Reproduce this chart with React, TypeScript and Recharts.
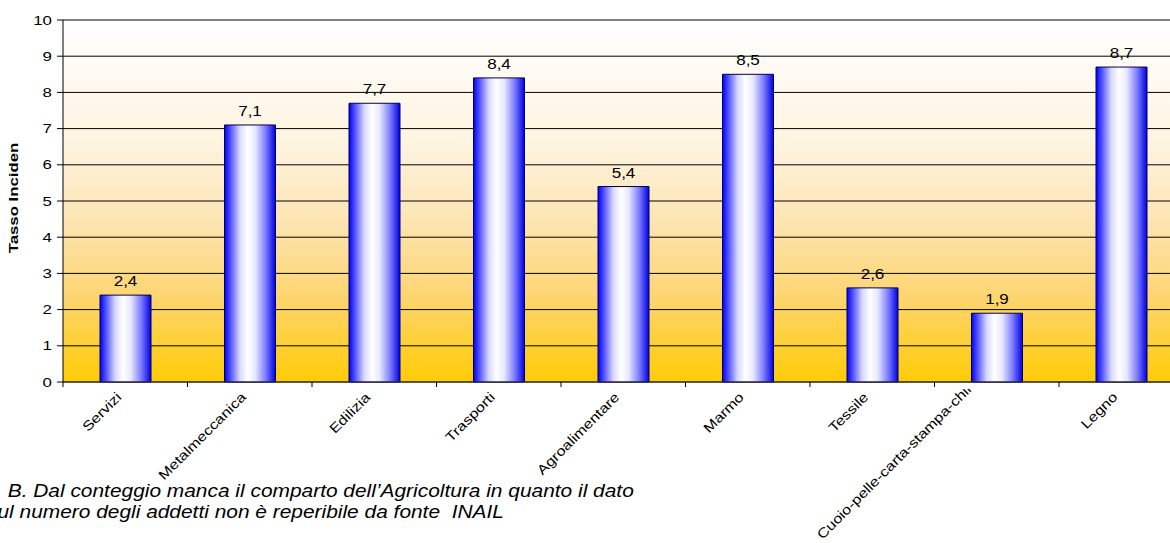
import * as React from "react";
import {
  BarChart,
  Bar,
  XAxis,
  YAxis,
  CartesianGrid,
  LabelList,
  ReferenceLine,
} from "recharts";

const categories = [
  "Servizi",
  "Metalmeccanica",
  "Edilizia",
  "Trasporti",
  "Agroalimentare",
  "Marmo",
  "Tessile",
  "Cuoio-pelle-carta-stampa-chimica",
  "Legno",
];
const tassoValues = [2.4, 7.1, 7.7, 8.4, 5.4, 8.5, 2.6, 1.9, 8.7];
const yTicks = [0, 1, 2, 3, 4, 5, 6, 7, 8, 9, 10];
const yLabel = "Tasso Inciden";
const noteLines = [
  "N. B. Dal conteggio manca il comparto dell\u2019Agricoltura in quanto il dato",
  "sul numero degli addetti non \u00e8 reperibile da fonte  INAIL",
];

const data = categories.map((name, i) => ({ name, value: tassoValues[i] }));

// layout
const CHART_W = 1200;
const CHART_H = 543;
const PLOT_LEFT = 63;
const PLOT_RIGHT = 1183.5;
const PLOT_TOP = 20;
const PLOT_BOTTOM = 382;
const X_AXIS_H = 30;
const BAND = (PLOT_RIGHT - PLOT_LEFT) / categories.length;
const FONT = "Arial, 'Liberation Sans', sans-serif";
const X_FONT_SIZE = 13.5;
const X_SCALE = 1.2;
const LABEL_BOTTOM_LIMIT = 540;
const NOTE_X = [-19, -13];

let measureCtx: CanvasRenderingContext2D | null = null;
function textWidth(s: string, font: string) {
  if (!measureCtx) measureCtx = document.createElement("canvas").getContext("2d");
  if (!measureCtx) return s.length * 7;
  measureCtx.font = font;
  return measureCtx.measureText(s).width;
}

const XTick = (props: any) => {
  const { x, payload, index } = props;
  const left = x - BAND / 2;
  const right = x + BAND / 2;
  const len = textWidth(String(payload.value), `${X_FONT_SIZE}px ${FONT}`) * X_SCALE;
  const d = len * Math.SQRT1_2;
  const endX = x - 3;
  let endY = PLOT_BOTTOM + 16;
  // long labels get pushed up so they stay inside the picture (top gets clipped)
  if (endY + d > LABEL_BOTTOM_LIMIT) endY -= endY + d - LABEL_BOTTOM_LIMIT;
  return (
    <g>
      <line x1={left} x2={left} y1={PLOT_BOTTOM} y2={PLOT_BOTTOM + 5} stroke="#000" />
      {index === categories.length - 1 && (
        <line x1={right} x2={right} y1={PLOT_BOTTOM} y2={PLOT_BOTTOM + 5} stroke="#000" />
      )}
      <g clipPath="url(#xlabelClip)">
        <text
          transform={`translate(${endX},${endY}) rotate(-45) scale(${X_SCALE},1)`}
          textAnchor="end"
          fontSize={X_FONT_SIZE}
          fontFamily={FONT}
          fill="#000"
        >
          {payload.value}
        </text>
      </g>
    </g>
  );
};

const YTick = (props: any) => {
  const { y, payload } = props;
  return (
    <text
      transform={`translate(${PLOT_LEFT - 11},${y + 4.5}) scale(1.35,1)`}
      textAnchor="end"
      fontSize={12.5}
      fontFamily={FONT}
      fill="#000"
    >
      {payload.value}
    </text>
  );
};

const YLabel = () => (
  <text
    transform={`translate(17.5,${(PLOT_TOP + PLOT_BOTTOM) / 2 - 3}) rotate(-90) scale(1.4,1)`}
    textAnchor="middle"
    fontSize={12}
    fontWeight="bold"
    fontFamily={FONT}
    fill="#000"
  >
    {yLabel}
  </text>
);

const ValueLabel = (props: any) => {
  const { x, y, width, value } = props;
  return (
    <text
      transform={`translate(${x + width / 2},${y - 9}) scale(1.1,1)`}
      textAnchor="middle"
      fontSize={15.5}
      fontFamily={FONT}
      fill="#000"
    >
      {String(value).replace(".", ",")}
    </text>
  );
};

export default function App() {
  return (
    <div
      style={{
        position: "absolute",
        left: 0,
        top: 0,
        width: 1170,
        height: 543,
        overflow: "hidden",
        background: "#fff",
      }}
    >
      <BarChart
        width={CHART_W}
        height={CHART_H}
        data={data}
        margin={{
          top: PLOT_TOP,
          right: CHART_W - PLOT_RIGHT,
          left: 0,
          bottom: CHART_H - PLOT_BOTTOM - X_AXIS_H,
        }}
        barSize={51}
      >
        <defs>
          <linearGradient id="bgGrad" x1="0" y1="0" x2="0" y2="1">
            <stop offset="0" stopColor="#FFFFFF" />
            <stop offset="0.35" stopColor="#FEF3DF" />
            <stop offset="0.55" stopColor="#FDE5B3" />
            <stop offset="0.75" stopColor="#FDD676" />
            <stop offset="1" stopColor="#FFCB05" />
          </linearGradient>
          <linearGradient id="barGrad" x1="0" y1="0" x2="1" y2="0">
            <stop offset="0" stopColor="#0000FF" />
            <stop offset="0.12" stopColor="#5555FF" />
            <stop offset="0.3" stopColor="#D8D8FF" />
            <stop offset="0.45" stopColor="#FFFFFF" />
            <stop offset="0.6" stopColor="#E8E8FF" />
            <stop offset="0.8" stopColor="#8080FF" />
            <stop offset="1" stopColor="#0000E6" />
          </linearGradient>
          <clipPath id="xlabelClip" clipPathUnits="userSpaceOnUse">
            <rect x={0} y={389} width={CHART_W} height={300} />
          </clipPath>
        </defs>
        <CartesianGrid vertical={false} stroke="#000" fill="url(#bgGrad)" fillOpacity={1} />
        <XAxis
          dataKey="name"
          interval={0}
          height={X_AXIS_H}
          tickLine={false}
          axisLine={{ stroke: "#333" }}
          tick={<XTick />}
        />
        <YAxis
          type="number"
          domain={[0, 10]}
          ticks={yTicks}
          width={PLOT_LEFT}
          axisLine={{ stroke: "#000" }}
          tickLine={{ stroke: "#000" }}
          tickSize={6}
          tick={<YTick />}
          label={{ content: () => <YLabel /> }}
        />
        <ReferenceLine y={10} stroke="#808080" strokeWidth={1.5} />
        <Bar
          dataKey="value"
          fill="url(#barGrad)"
          stroke="#000050"
          strokeWidth={1}
          isAnimationActive={false}
        >
          <LabelList dataKey="value" content={<ValueLabel />} />
        </Bar>
      </BarChart>
      <svg
        width={1170}
        height={543}
        style={{ position: "absolute", left: 0, top: 0, pointerEvents: "none" }}
      >
        {noteLines.map((line, i) => (
          <text
            key={i}
            transform={`translate(${NOTE_X[i]},${497 + i * 21}) scale(1.1,1)`}
            fontSize={19}
            fontStyle="italic"
            fontFamily={FONT}
            fill="#000"
            style={{ whiteSpace: "pre" }}
          >
            {line}
          </text>
        ))}
      </svg>
    </div>
  );
}
